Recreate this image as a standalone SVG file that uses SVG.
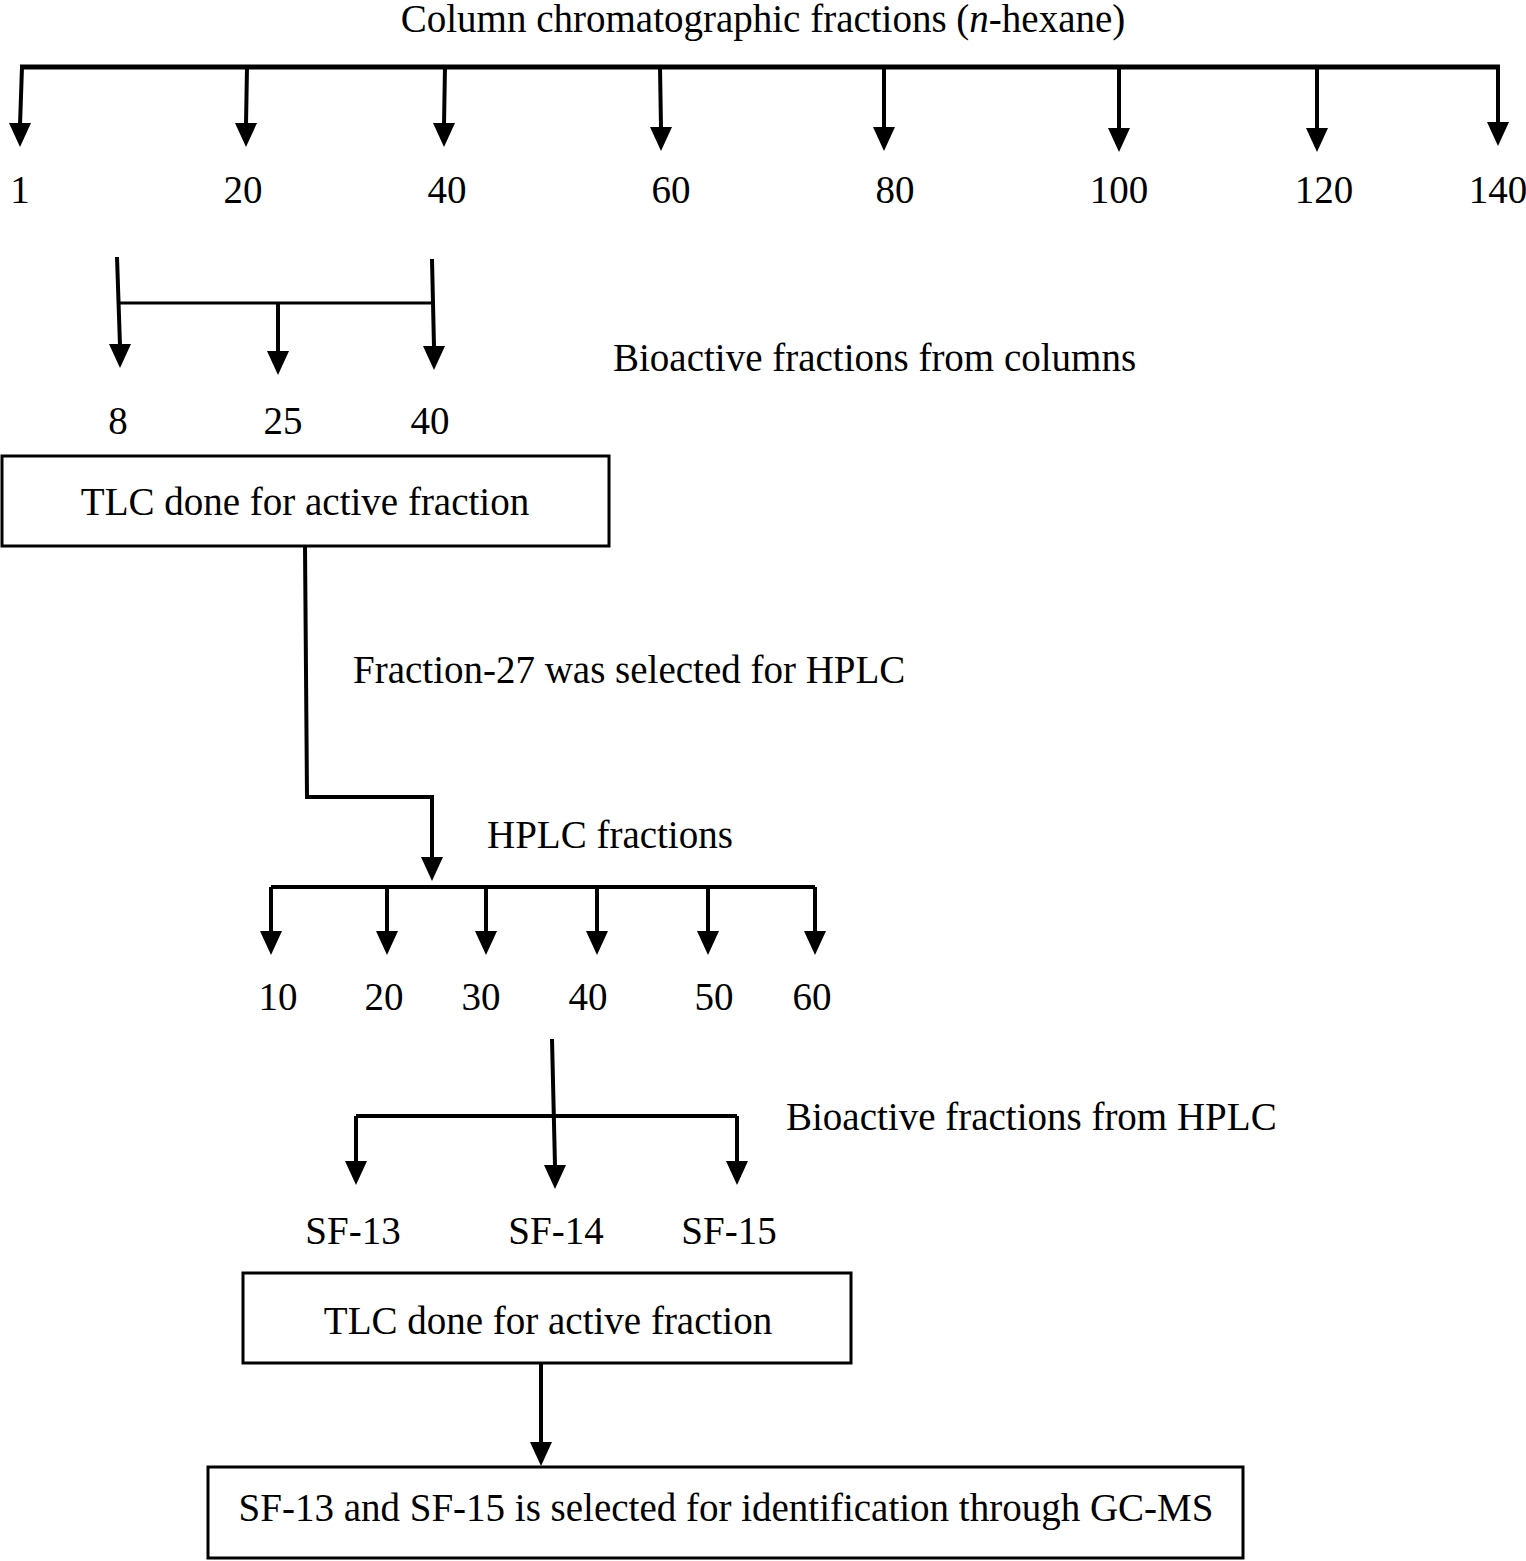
<svg xmlns="http://www.w3.org/2000/svg" xmlns:xlink="http://www.w3.org/1999/xlink" width="1526" height="1561" viewBox="0 0 1526 1561">
<defs>
<style>
text{font-family:"Liberation Serif","Times New Roman",serif;font-size:39px;fill:#000}
.m{text-anchor:middle}
.ln{stroke:#000;fill:none;stroke-width:4}
.thick{stroke-width:5}
.thin{stroke-width:3}
.box{fill:#fff;stroke:#000;stroke-width:3}
.ah{fill:#000}
</style>
<path id="ah" class="ah" d="M-11,-24 L11,-24 L0,0 Z"/>
</defs>
<rect width="1526" height="1561" fill="#fff"/>

<g id="connectors">
  <path class="ln thick" d="M20,67 H1500"/>
  <path class="ln" d="M22,67 L20,125 M247,67 L246,125 M445,67 L444,125 M660,67 L661,128 M884,67 L884,128 M1119,67 L1119,128 M1317,67 L1317,128 M1498,67 L1498,123"/>
  <use xlink:href="#ah" x="20" y="147"/>
  <use xlink:href="#ah" x="246" y="147"/>
  <use xlink:href="#ah" x="444" y="147"/>
  <use xlink:href="#ah" x="661" y="151"/>
  <use xlink:href="#ah" x="884" y="151"/>
  <use xlink:href="#ah" x="1119" y="152"/>
  <use xlink:href="#ah" x="1317" y="152"/>
  <use xlink:href="#ah" x="1498" y="146"/>

  <path class="ln thin" d="M118,303 H432"/>
  <path class="ln" d="M117,257 L120,346 M278,303 V352 M432,259 L434,347"/>
  <use xlink:href="#ah" x="120" y="368"/>
  <use xlink:href="#ah" x="278" y="375"/>
  <use xlink:href="#ah" x="434" y="370"/>

  <path class="ln" d="M305,546 L307,797 H432 V858"/>
  <use xlink:href="#ah" x="432" y="881"/>

  <path class="ln" d="M271,887 H815"/>
  <path class="ln" d="M271,887 V932 M387,887 V932 M486,887 V932 M597,887 V932 M708,887 V932 M815,887 V932"/>
  <use xlink:href="#ah" x="271" y="955"/>
  <use xlink:href="#ah" x="387" y="955"/>
  <use xlink:href="#ah" x="486" y="955"/>
  <use xlink:href="#ah" x="597" y="955"/>
  <use xlink:href="#ah" x="708" y="955"/>
  <use xlink:href="#ah" x="815" y="955"/>

  <path class="ln" d="M356,1116 H737"/>
  <path class="ln" d="M356,1116 V1162 M737,1116 V1162 M552,1039 L555,1166"/>
  <use xlink:href="#ah" x="356" y="1185"/>
  <use xlink:href="#ah" x="555" y="1189"/>
  <use xlink:href="#ah" x="737" y="1185"/>

  <path class="ln" d="M541,1363 V1443"/>
  <use xlink:href="#ah" x="541" y="1466"/>
</g>

<g id="title"><text class="m" x="763" y="32">Column chromatographic fractions (<tspan font-style="italic">n</tspan>-hexane)</text></g>
<g id="labels-top">
  <text class="m" x="20" y="203">1</text>
  <text class="m" x="243" y="203">20</text>
  <text class="m" x="447" y="203">40</text>
  <text class="m" x="671" y="203">60</text>
  <text class="m" x="895" y="203">80</text>
  <text class="m" x="1119" y="203">100</text>
  <text class="m" x="1324" y="203">120</text>
  <text class="m" x="1498" y="203">140</text>
</g>
<g id="bioactive-columns">
  <text x="613" y="371">Bioactive fractions from columns</text>
  <text class="m" x="118" y="434">8</text>
  <text class="m" x="283" y="434">25</text>
  <text class="m" x="430" y="434">40</text>
</g>
<g id="box1">
  <rect class="box" x="2" y="456" width="607" height="90"/>
  <text class="m" x="305" y="515">TLC done for active fraction</text>
</g>
<g id="fraction27"><text x="353" y="683">Fraction-27 was selected for HPLC</text></g>
<g id="hplc">
  <text x="487" y="848">HPLC fractions</text>
  <text class="m" x="278" y="1010">10</text>
  <text class="m" x="384" y="1010">20</text>
  <text class="m" x="481" y="1010">30</text>
  <text class="m" x="588" y="1010">40</text>
  <text class="m" x="714" y="1010">50</text>
  <text class="m" x="812" y="1010">60</text>
</g>
<g id="bioactive-hplc">
  <text x="786" y="1130">Bioactive fractions from HPLC</text>
  <text class="m" x="353" y="1244">SF-13</text>
  <text class="m" x="556" y="1244">SF-14</text>
  <text class="m" x="729" y="1244">SF-15</text>
</g>
<g id="box2">
  <rect class="box" x="243" y="1273" width="608" height="90"/>
  <text class="m" x="548" y="1334">TLC done for active fraction</text>
</g>
<g id="box3">
  <rect class="box" x="208" y="1467" width="1035" height="91"/>
  <text class="m" x="726" y="1521">SF-13 and SF-15 is selected for identification through GC-MS</text>
</g>
</svg>
